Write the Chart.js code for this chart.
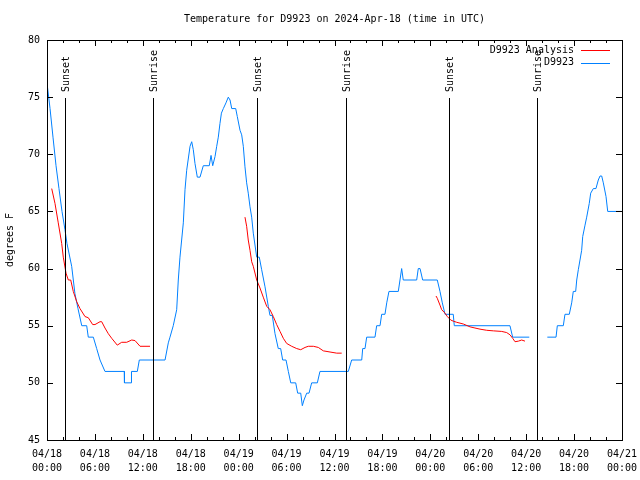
<!DOCTYPE html>
<html>
<head>
<meta charset="utf-8">
<script src="https://cdn.jsdelivr.net/npm/chart.js@4.4.1/dist/chart.umd.min.js"></script>
<style>
  html, body { margin: 0; padding: 0; background: #fff; }
  #wrap { width: 640px; height: 480px; }
</style>
</head>
<body>
<div id="wrap"><canvas id="mainChart" width="640" height="480"></canvas></div>
<script>
// hours since 04/18 00:00 UTC
const observedHours = [0.04, 0.38, 0.75, 1.13, 1.5, 1.88, 2.25, 2.5, 3.09, 3.5, 3.88, 4.35, 4.97, 5.17, 5.8, 6.22, 6.64, 7.26, 9.68, 9.7, 10.52, 10.58, 11.31, 11.56,
    14.78, 15.19, 15.4, 15.81, 16.24, 16.44, 16.65, 17.07, 17.28, 17.49, 17.91, 18.12, 18.32, 18.53, 18.82, 19.16, 19.57, 20.32, 20.54, 20.75, 21.04, 21.25, 21.45, 21.66, 21.84, 22.08, 22.41, 22.7, 22.92, 23.13, 23.63, 23.83,
    24.17, 24.38, 24.58, 24.79, 25.0, 25.2, 25.42, 25.63, 25.83, 26.26, 26.58, 26.88, 27.3, 27.71, 27.92, 28.21, 28.55, 28.96, 29.26, 29.51, 29.93, 30.22, 30.52, 31.14, 31.39, 31.77, 31.97, 32.18, 32.52, 32.81, 33.14, 33.85, 34.18,
    37.73, 38.15, 39.41, 39.53, 39.82, 40.03, 41.07, 41.28, 41.7, 41.91, 42.32, 42.54, 42.82, 43.99, 44.2, 44.41, 44.61, 46.29, 46.49, 46.71, 47.04, 48.87, 49.21, 49.5, 49.84, 50.87, 51.0, 57.97, 58.31, 60.39,
    61.5,
    62.65, 63.74, 63.9, 64.65, 64.86, 65.4, 65.7, 65.9, 66.2, 66.33, 66.53, 66.74, 66.95, 67.08, 67.37, 67.58, 67.9, 68.08, 68.41, 68.74, 69.03, 69.25, 69.46, 69.66, 70.0, 70.21, 71.96];
const observedTemps = [76, 74, 71.5, 69, 67, 65, 63.4, 62.2, 60.2, 57.8, 56.5, 55, 55, 54, 54, 53, 52, 51, 51, 50, 50, 51, 51, 52,
    52, 53.5, 54, 55, 56.4, 59, 61, 64, 66.9, 68.6, 70.7, 71.1, 70.4, 69.2, 68, 68, 69, 69, 69.9, 69, 69.8, 70.7, 71.5, 72.7, 73.6, 74, 74.5, 75, 74.75, 74, 74, 73.3,
    72.1, 71.7, 70.7, 68.9, 67.5, 66.6, 65.4, 64.5, 63.1, 61, 61, 59.9, 58.4, 56.7, 55.9, 55.9, 54.3, 53, 53, 52, 52, 51, 50, 50, 49.1, 49.1, 48, 48.5, 49.1, 49.1, 50, 50, 51,
    51, 52, 52, 53, 53, 54, 54, 55, 55, 56, 56, 57, 58, 58, 59, 60, 59, 59, 60, 60, 59, 59, 58, 57, 56, 56, 55, 55, 54, 54,
    null,
    54, 54, 55, 55, 56, 56, 57, 58, 58, 59, 59.9, 60.75, 61.6, 62.8, 63.8, 64.5, 65.7, 66.6, 67, 67, 67.75, 68.1, 68.1, 67.5, 66.3, 65, 65];

const analysisHours = [0.59, 1.0, 1.41, 1.84, 2.04, 2.38, 2.67, 2.97, 3.29, 3.72, 4.13, 4.76, 5.17, 5.72, 6.01, 6.64, 6.85, 7.26, 7.68, 8.1, 8.8, 9.35, 9.98, 10.61, 11.02, 11.65, 12.9,
    18.0,
    24.79, 25.0, 25.2, 25.42, 25.63, 25.83, 26.26, 26.67, 27.08, 27.51, 27.92, 28.34, 28.76, 29.18, 29.59, 30.01, 30.64, 31.27, 31.77, 32.31, 32.72, 33.35, 33.97, 34.6, 35.44, 36.28, 36.9,
    42.0,
    48.71, 48.87, 49.21, 49.42, 49.84, 50.13, 50.55, 50.87, 51.3, 52.13, 52.97, 53.59, 54.22, 55.06, 55.89, 56.94, 57.56, 57.98, 58.31, 58.6, 59.02, 59.44, 59.85];
const analysisTemps = [67, 65.7, 64, 62.2, 61, 59.6, 59, 59, 58, 57.1, 56.5, 55.8, 55.7, 55.1, 55.1, 55.35, 55.35, 54.8, 54.3, 53.9, 53.3, 53.55, 53.55, 53.75, 53.7, 53.2, 53.2,
    null,
    64.5, 63.7, 62.5, 61.6, 60.6, 60.2, 59, 58.3, 57.5, 56.7, 56.4, 55.8, 55.1, 54.5, 53.9, 53.45, 53.2, 53.0, 52.9, 53.1, 53.2, 53.2, 53.1, 52.8, 52.7, 52.6, 52.6,
    null,
    57.6, 57.4, 56.8, 56.4, 56.1, 55.8, 55.5, 55.4, 55.3, 55.15, 54.9, 54.8, 54.7, 54.6, 54.55, 54.5, 54.4, 54.2, 53.9, 53.6, 53.65, 53.75, 53.65];

const eventHours = [2.25, 13.27, 26.3, 37.44, 50.34, 61.36];
const eventNames = ['Sunset', 'Sunrise', 'Sunset', 'Sunrise', 'Sunset', 'Sunrise'];

const xTickLabels = ['04/18 00:00', '04/18 06:00', '04/18 12:00', '04/18 18:00', '04/19 00:00', '04/19 06:00', '04/19 12:00',
    '04/19 18:00', '04/20 00:00', '04/20 06:00', '04/20 12:00', '04/20 18:00', '04/21 00:00'];

const FONT = "'DejaVu Sans Mono', 'Liberation Mono', monospace";

function toPoints(xs, ys) {
    return xs.map((x, i) => ({ x: x, y: ys[i] }));
}

// gnuplot-style frame, inward ticks, event lines, title and key
const gnuplotDecor = {
    id: 'gnuplotDecor',
    afterDatasetsDraw(chart) {
        const ctx = chart.ctx;
        const a = chart.chartArea;
        const xs = chart.scales.x;
        const ys = chart.scales.y;
        ctx.save();
        ctx.strokeStyle = '#000';
        ctx.lineWidth = 1;

        // event lines
        ctx.beginPath();
        eventHours.forEach(h => {
            const px = Math.round(xs.getPixelForValue(h)) + 0.5;
            ctx.moveTo(px, 98);
            ctx.lineTo(px, a.bottom);
        });
        ctx.stroke();

        // ticks
        ctx.beginPath();
        for (let h = 0; h <= 72; h += 2) {
            const px = Math.round(xs.getPixelForValue(h)) + 0.5;
            const len = (h % 6 === 0) ? 6 : 3;
            ctx.moveTo(px, a.bottom); ctx.lineTo(px, a.bottom - len);
            ctx.moveTo(px, a.top); ctx.lineTo(px, a.top + len);
        }
        for (let t = 45; t <= 80; t += 5) {
            const py = Math.round(ys.getPixelForValue(t)) + 0.5;
            ctx.moveTo(a.left, py); ctx.lineTo(a.left + 6, py);
            ctx.moveTo(a.right, py); ctx.lineTo(a.right - 6, py);
        }
        ctx.stroke();

        // frame
        ctx.strokeRect(Math.round(a.left) + 0.5, Math.round(a.top) + 0.5, Math.round(a.right - a.left), Math.round(a.bottom - a.top));

        ctx.fillStyle = '#000';
        ctx.font = '10px ' + FONT;

        // event labels, reading upward
        eventHours.forEach((h, i) => {
            const px = xs.getPixelForValue(h);
            ctx.save();
            ctx.translate(px + 1.5, 92);
            ctx.rotate(-Math.PI / 2);
            ctx.textAlign = 'left';
            ctx.textBaseline = 'middle';
            ctx.fillText(eventNames[i], 0, 0);
            ctx.restore();
        });

        // title
        ctx.textAlign = 'center';
        ctx.textBaseline = 'middle';
        ctx.fillText('Temperature for D9923 on 2024-Apr-18 (time in UTC)', (a.left + a.right) / 2, 19);

        // key
        const keys = [['D9923 Analysis', '#ff0000', 50], ['D9923', '#0080ff', 62.5]];
        keys.forEach(k => {
            ctx.textAlign = 'right';
            ctx.fillStyle = '#000';
            ctx.fillText(k[0], 574, k[2]);
            ctx.strokeStyle = k[1];
            ctx.beginPath();
            ctx.moveTo(581, Math.round(k[2]) + 0.5);
            ctx.lineTo(610, Math.round(k[2]) + 0.5);
            ctx.stroke();
        });
        ctx.restore();
    }
};

const ctx = document.getElementById('mainChart').getContext('2d');
const chartInstance = new Chart(ctx, {
    type: 'line',
    data: {
        datasets: [
            { label: 'D9923 Analysis', borderColor: '#ff0000', data: toPoints(analysisHours, analysisTemps) },
            { label: 'D9923', borderColor: '#0080ff', data: toPoints(observedHours, observedTemps) }
        ]
    },
    options: {
        responsive: false, animation: false, devicePixelRatio: 1,
        spanGaps: false,
        elements: { point: { radius: 0 }, line: { borderWidth: 1, tension: 0 } },
        layout: { padding: { top: 40, right: 18, left: 0, bottom: 0 } },
        plugins: { legend: { display: false }, title: { display: false }, tooltip: { enabled: false } },
        scales: {
            x: {
                type: 'linear', min: 0, max: 72,
                grid: { display: false, drawTicks: false },
                border: { display: false },
                ticks: {
                    stepSize: 6, autoSkip: false, maxRotation: 0, padding: 7,
                    color: '#000', font: { family: FONT, size: 10, lineHeight: 1.4 },
                    callback: v => xTickLabels[v / 6] ? xTickLabels[v / 6].split(' ') : ''
                },
                afterFit: s => { s.height = 40; s.paddingLeft = 0; s.paddingRight = 0; }
            },
            y: {
                min: 45, max: 80,
                grid: { display: false, drawTicks: false },
                border: { display: false },
                ticks: { stepSize: 5, padding: 7, color: '#000', font: { family: FONT, size: 10 } },
                title: { display: true, text: 'degrees F', color: '#000', font: { family: FONT, size: 10 }, padding: { top: 4, bottom: 0 } },
                afterFit: s => { s.width = 47; s.paddingTop = 0; s.paddingBottom = 0; }
            }
        }
    },
    plugins: [gnuplotDecor]
});
</script>
</body>
</html>
